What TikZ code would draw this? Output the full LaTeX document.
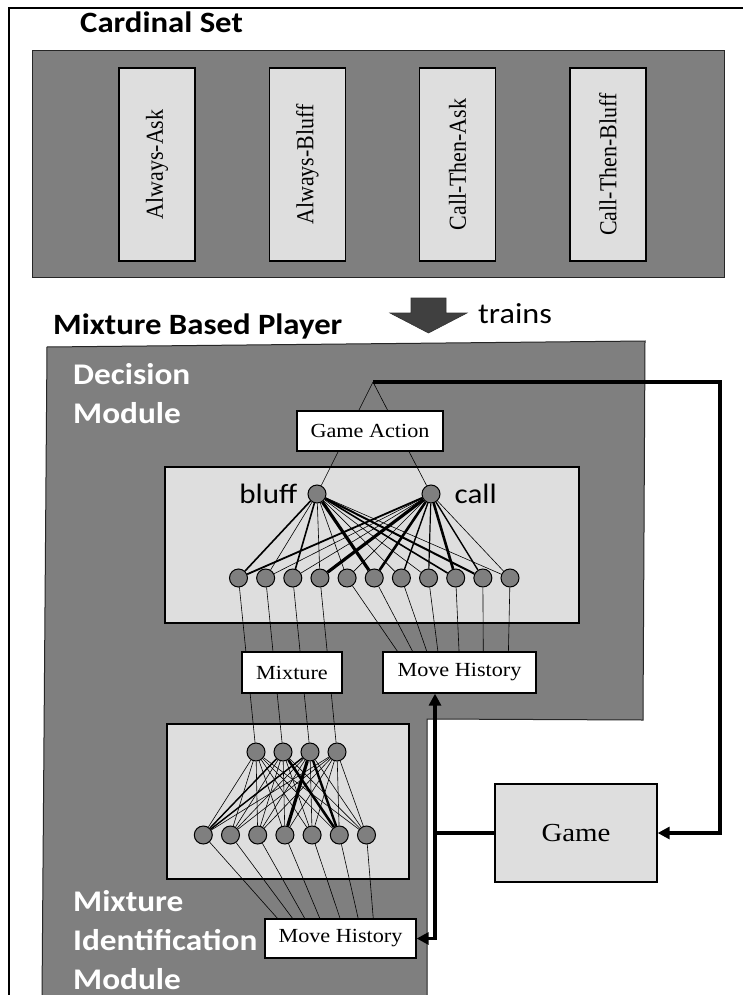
\documentclass[tikz,border=0pt]{standalone}
\usepackage{fontspec}
\usetikzlibrary{positioning,arrows.meta,calc}

\newfontfamily\headfont[FakeStretch=1.11]{Carlito}
\newfontfamily\boxfont[FakeStretch=1.11]{Liberation Serif}
\newfontfamily\rotfont[FakeStretch=0.9]{Liberation Serif}

\definecolor{regiongray}{HTML}{7F7F7F}
\definecolor{panelgray}{HTML}{DEDEDE}
\definecolor{arrowgray}{HTML}{404040}

\begin{document}
\begin{tikzpicture}[
        x=1pt, y=-1pt,
        node distance=73pt,
        region/.style={
            draw=black!85,
            fill=regiongray,
            line width=1pt
        },
        panel/.style={
            draw,
            fill=panelgray,
            line width=1.3pt
        },
        strategy/.style={
            rectangle,
            draw,
            fill=panelgray,
            line width=1.3pt,
            minimum width=76pt,
            minimum height=193pt,
            inner sep=0pt,
            font=\rotfont\fontsize{24.4}{28}\selectfont
        },
        tagbox/.style={
            rectangle,
            draw,
            fill=white,
            line width=1.3pt,
            inner sep=0pt,
            minimum height=40pt,
            font=\boxfont\fontsize{20}{24}\selectfont
        },
        title/.style={
            anchor=base west,
            inner sep=0pt,
            font=\headfont\bfseries\fontsize{29.5}{36}\selectfont
        },
        module/.style={
            anchor=north west,
            inner sep=0pt,
            align=left,
            text=white,
            font=\headfont\bfseries\fontsize{30}{39}\selectfont
        },
        neuron/.style={
            circle,
            draw,
            fill=regiongray,
            line width=1pt,
            minimum size=18pt,
            inner sep=0pt
        },
        wire/.style={
            line width=0.6pt
        },
        flow/.style={
            line width=3.2pt,
            -{Triangle[length=12pt,width=12pt]}
        }
    ]
    \useasboundingbox (0,0) rectangle (742,995);

    % Outer frame and cardinal set
    \draw[line width=1.2pt] (9,997) -- (9,8) -- (744,8);
    \node[title] (cardtitle) at (80,33) {Cardinal Set};
    \draw[region] (32,51) rectangle (724,277);
    \node[strategy] (alwaysask) at (157,164.5) {\rotatebox{90}{Always-Ask}};
    \node[strategy, right=of alwaysask] (alwaysbluff) {\rotatebox{90}{Always-Bluff}};
    \node[strategy, right=of alwaysbluff] (callask) {\rotatebox{90}{Call-Then-Ask}};
    \node[strategy, right=of callask] (callbluff) {\rotatebox{90}{Call-Then-Bluff}};

    % Trains arrow
    \draw[fill=arrowgray, draw=black!80, line width=0.6pt]
        (411,298) -- (446,298) -- (446,313) -- (467,313) -- (428.5,333)
        -- (390,313) -- (411,313) -- cycle;
    \node[anchor=base west, inner sep=0pt, font=\headfont\fontsize{29}{34}\selectfont] (trains) at (478,323) {trains};

    % Mixture based player
    \node[title] (playertitle) at (53,334) {Mixture Based Player};
    \draw[region] (47,347) -- (645,341) -- (643,720) -- (427,719) -- (427,998) -- (42,998) -- cycle;
    \node[module] (decisiontxt) at (73,363) {Decision\\Module};
    \node[module] (mixidtxt) at (73,890) {Mixture\\Identification\\Module};

    % Network panels
    \draw[panel] (165,467) rectangle (579,623);
    \draw[panel] (167,724) rectangle (409,879);

    % Decision network
    \node[neuron] (bluff) at (317,494) {};
    \node[neuron] (call) at (431,494) {};
    \node[left=10pt of bluff, inner sep=0pt, font=\headfont\fontsize{28}{32}\selectfont] (blufftxt) {bluff};
    \node[right=14pt of call, inner sep=0pt, font=\headfont\fontsize{28}{32}\selectfont] (calltxt) {call};
    \foreach \i in {1,...,11}
        \node[neuron] (d\i) at ({238.5+27.15*(\i-1)},578) {};
    \foreach \i/\wb/\wc in {1/1.6/1.8, 2/0.6/0.6, 3/1.6/0.6, 4/0.6/3.2, 5/0.6/0.6, 6/3.2/2.6,
                            7/0.6/1.4, 8/0.6/1.2, 9/1.6/2.6, 10/2.0/1.4, 11/0.6/0.6} {
        \draw[line width=\wb pt] (bluff) -- (d\i);
        \draw[line width=\wc pt] (call) -- (d\i);
    }

    % Mixture identification network
    \foreach \i in {1,...,4}
        \node[neuron] (m\i) at ({256+27*(\i-1)},752) {};
    \foreach \i in {1,...,7}
        \node[neuron] (h\i) at ({203.3+27.2*(\i-1)},835) {};
    \foreach \a in {1,...,4}
        \foreach \b in {1,...,7}
            \draw[wire] (m\a) -- (h\b);
    \foreach \a/\b/\w in {2/1/1.4, 3/1/1.4, 2/6/2.6, 3/4/3.2, 3/6/2.4}
        \draw[line width=\w pt] (m\a) -- (h\b);

    % Game action
    \coordinate (apex) at (373,382);
    \draw[wire] (bluff) -- (apex);
    \draw[wire] (call) -- (apex);
    \node[tagbox, minimum width=146pt] (action) at (370,431) {Game Action};

    % Mixture and move history inputs
    \foreach \i in {1,...,4}
        \draw[wire] (d\i) -- (m\i);
    \node[tagbox, minimum width=100pt, minimum height=41pt] (mixture) at (292,672.5) {Mixture};
    \node[tagbox, minimum width=153pt, minimum height=41pt] (movehist) at (459.5,672.5) {Move History};
    \foreach \i/\f in {5/0.098, 6/0.196, 7/0.288, 8/0.36, 9/0.497, 10/0.654, 11/0.817}
        \draw[wire] (d\i) -- ($(movehist.north west)!\f!(movehist.north east)$);
    \node[tagbox, minimum width=151pt, minimum height=39pt] (idhist) at (340.5,938.5) {Move History};
    \foreach \i/\f in {1/0.086, 2/0.185, 3/0.265, 4/0.364, 5/0.497, 6/0.616, 7/0.715}
        \draw[wire] (h\i) -- ($(idhist.north west)!\f!(idhist.north east)$);

    % Game and feedback loop
    \node[rectangle, draw, fill=panelgray, line width=1.3pt, minimum width=162pt, minimum height=98pt,
          font=\boxfont\fontsize{26}{30}\selectfont] (game) at (576,833) {Game};
    \coordinate (turn) at (720,382);
    \coordinate (split) at (435,833);
    \draw[flow] (apex) -- (turn) |- (game.east);
    \draw[flow, -] (game.west) -- (split);
    \draw[flow] (split) -- (split |- movehist.south);
    \draw[flow] (split) |- (idhist.east);

\end{tikzpicture}
\end{document}
